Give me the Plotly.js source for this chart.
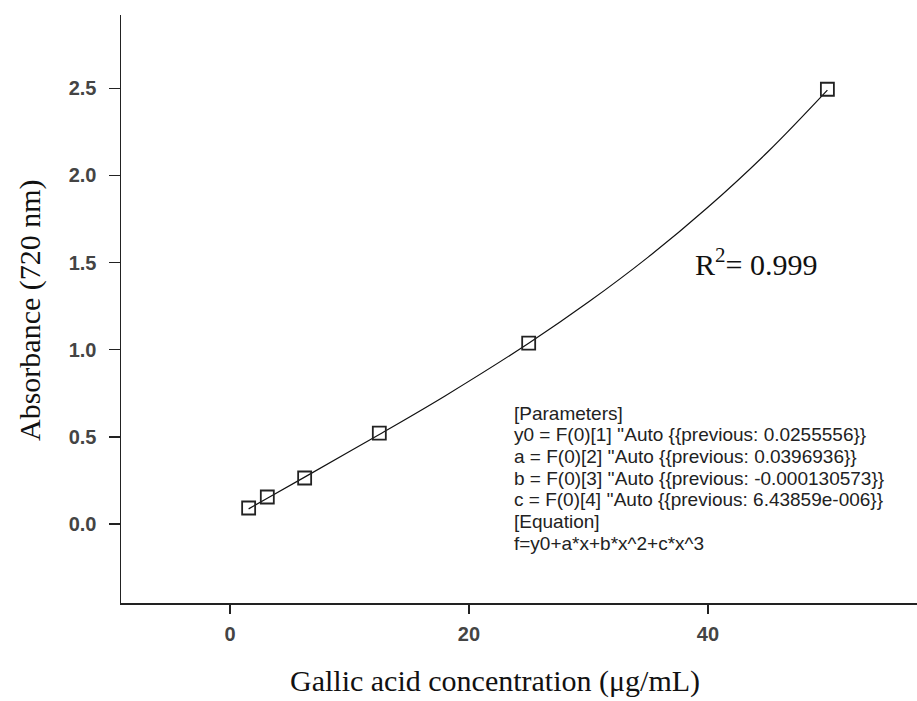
<!DOCTYPE html>
<html><head><meta charset="utf-8">
<script src="https://cdn.plot.ly/plotly-3.0.1.min.js"></script>
<style>html,body{margin:0;padding:0;background:#fff}#chart{width:917px;height:701px}</style>
</head><body><div id="chart"></div>
<script>
// Measured points
const concentration = [1.5625, 3.125, 6.25, 12.5, 25, 50];
const absorbance = [0.092, 0.155, 0.264, 0.522, 1.038, 2.494];
// Fitted curve
const curveX = [1.5625, 3.125, 6.25, 12.5, 18, 25, 30, 35, 40, 45, 50];
const curveY = [0.087, 0.148, 0.269, 0.514, 0.735, 1.037, 1.273, 1.531, 1.817, 2.134, 2.489];
const xTicks = [0, 20, 40];
const yTicks = [0.0, 0.5, 1.0, 1.5, 2.0, 2.5];
const yTickText = ['0.0', '0.5', '1.0', '1.5', '2.0', '2.5'];
const paramLines = [
  '[Parameters]',
  'y0 = F(0)[1] \'\'Auto {{previous: 0.0255556}}',
  'a = F(0)[2] \'\'Auto {{previous: 0.0396936}}',
  'b = F(0)[3] \'\'Auto {{previous: -0.000130573}}',
  'c = F(0)[4] \'\'Auto {{previous: 6.43859e-006}}',
  '[Equation]',
  'f=y0+a*x+b*x^2+c*x^3'
];

const traces = [
  {x: curveX, y: curveY, mode: 'lines', line: {color: '#111', width: 1.2, shape: 'spline'}, hoverinfo: 'skip'},
  {x: concentration, y: absorbance, mode: 'markers',
   marker: {symbol: 'square-open', size: 13, color: '#222', line: {width: 1.8, color: '#222'}}}
];

const tickFont = {family: '"Liberation Sans", Arial, sans-serif', size: 20, color: '#444', weight: 'bold'};

const W = 796, H = 588, L = 121, B = 603;
const px = v => (v - L) / W;
const py = v => (B - v) / H;
const serif = '"Liberation Serif", "Times New Roman", serif';

const annotations = [
  {xref: 'paper', yref: 'paper', x: px(495), y: py(681), text: 'Gallic acid concentration (μg/mL)',
   showarrow: false, xanchor: 'center', yanchor: 'middle', borderpad: 0,
   font: {family: serif, size: 30, color: '#111'}},
  {xref: 'paper', yref: 'paper', x: px(30), y: py(310), text: 'Absorbance (720 nm)', textangle: -90,
   showarrow: false, xanchor: 'center', yanchor: 'middle',
   font: {family: serif, size: 30, color: '#111'}},
  {xref: 'paper', yref: 'paper', x: px(693), y: py(262), text: 'R<sup>2</sup>= 0.999',
   showarrow: false, xanchor: 'left', yanchor: 'middle',
   font: {family: serif, size: 30, color: '#111'}}
];
paramLines.forEach((t, i) => {
  annotations.push({xref: 'paper', yref: 'paper', x: px(512), y: py(413 + i * 21.7), text: t,
    showarrow: false, xanchor: 'left', yanchor: 'middle', align: 'left',
    font: {family: '"Liberation Sans", Arial, sans-serif', size: 19, color: '#222'}});
});

const layout = {
  width: 917, height: 701,
  margin: {l: 121, r: 0, t: 15, b: 98},
  showlegend: false,
  paper_bgcolor: '#fff', plot_bgcolor: '#fff',
  xaxis: {range: [-9.12, 57.5], tickvals: xTicks, ticktext: xTicks.map(String),
    showgrid: false, zeroline: false, showline: true, linecolor: '#222', linewidth: 1.5,
    ticks: 'outside', ticklen: 9, tickwidth: 1.3, tickcolor: '#222', tickfont: tickFont, ticklabelstandoff: 3},
  yaxis: {range: [-0.453, 2.92], tickvals: yTicks, ticktext: yTickText,
    showgrid: false, zeroline: false, showline: true, linecolor: '#222', linewidth: 1.5,
    ticks: 'outside', ticklen: 11, tickwidth: 1.3, tickcolor: '#222', tickfont: tickFont, ticklabelstandoff: 8},
  annotations: annotations
};
Plotly.newPlot('chart', traces, layout, {displayModeBar: false, staticPlot: true});
</script></body></html>
